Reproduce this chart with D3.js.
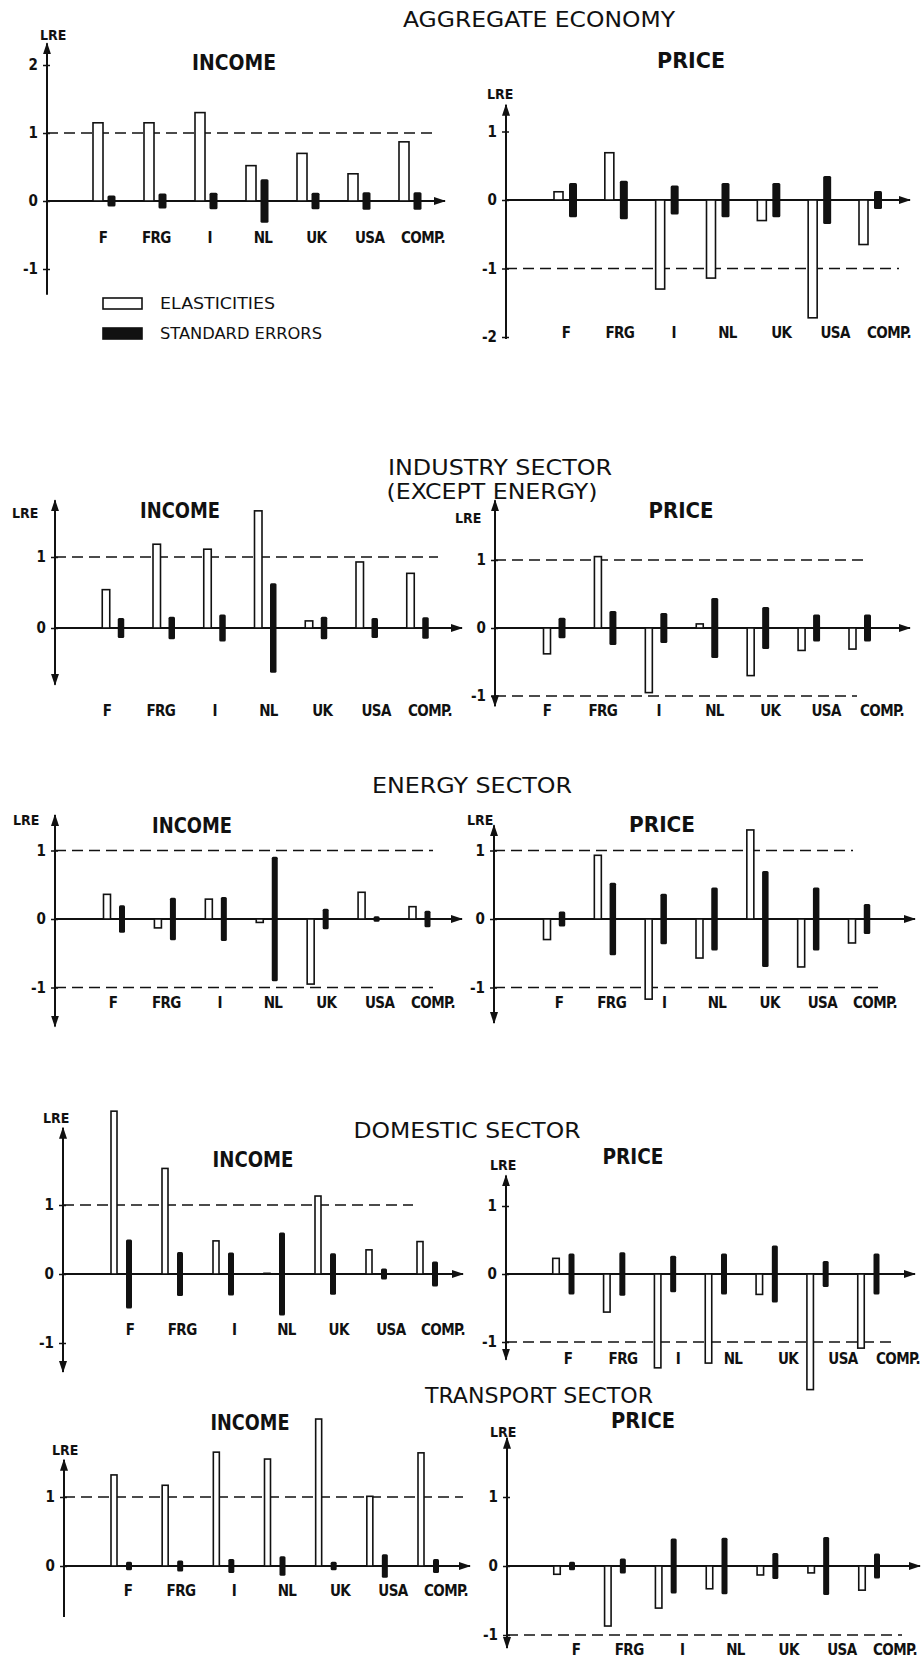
<!DOCTYPE html>
<html>
<head>
<meta charset="utf-8">
<script src="https://cdn.jsdelivr.net/npm/d3@7"></script>
<style>
  body { margin: 0; background: #fff; }
  svg text { font-family: "DejaVu Sans Condensed", "Liberation Sans Narrow", "DejaVu Sans", sans-serif; fill: #111; }
</style>
</head>
<body>
<svg width="924" height="1658"></svg>
<script>
// countries (x categories)
const countries = ["F", "FRG", "I", "NL", "UK", "USA", "COMP."];

// long run elasticities (open bars) and standard errors (black bars, +/-)
const aggIncElast   = [1.15, 1.15, 1.30, 0.52, 0.70, 0.40, 0.87];
const aggIncSE      = [0.08, 0.11, 0.12, 0.32, 0.12, 0.13, 0.13];
const aggPriceElast = [0.12, 0.69, -1.30, -1.14, -0.30, -1.72, -0.65];
const aggPriceSE    = [0.25, 0.28, 0.21, 0.25, 0.25, 0.35, 0.13];

const indIncElast   = [0.54, 1.18, 1.11, 1.65, 0.10, 0.93, 0.77];
const indIncSE      = [0.14, 0.16, 0.19, 0.63, 0.16, 0.14, 0.15];
const indPriceElast = [-0.38, 1.05, -0.95, 0.06, -0.70, -0.33, -0.31];
const indPriceSE    = [0.15, 0.25, 0.22, 0.44, 0.31, 0.20, 0.20];

const enIncElast    = [0.36, -0.13, 0.29, -0.05, -0.95, 0.39, 0.18];
const enIncSE       = [0.20, 0.31, 0.32, 0.91, 0.15, 0.04, 0.12];
const enPriceElast  = [-0.30, 0.93, -1.17, -0.57, 1.30, -0.70, -0.35];
const enPriceSE     = [0.11, 0.53, 0.37, 0.46, 0.70, 0.46, 0.22];

const domIncElast   = [2.36, 1.53, 0.48, 0.01, 1.13, 0.35, 0.47];
const domIncSE      = [0.50, 0.32, 0.31, 0.60, 0.30, 0.08, 0.18];
const domPriceElast = [0.23, -0.56, -1.38, -1.31, -0.30, -1.70, -1.09];
const domPriceSE    = [0.30, 0.32, 0.27, 0.30, 0.42, 0.19, 0.30];

const trIncElast    = [1.32, 1.17, 1.65, 1.55, 2.13, 1.01, 1.64];
const trIncSE       = [0.06, 0.08, 0.10, 0.14, 0.06, 0.17, 0.10];
const trPriceElast  = [-0.12, -0.87, -0.61, -0.33, -0.13, -0.10, -0.35];
const trPriceSE     = [0.06, 0.11, 0.40, 0.41, 0.19, 0.42, 0.18];

// tick values of each y axis
const aggIncTicks = [2, 1, 0, -1];
const aggPriceTicks = [1, 0, -1, -2];
const shortTicks = [1, 0];
const fullTicks = [1, 0, -1];

const sectionTitles = [
  { text: "AGGREGATE ECONOMY", x: 539, y: 27, w: 272 },
  { text: "INDUSTRY SECTOR", x: 500, y: 475, w: 224 },
  { text: "(EXCEPT ENERGY)", x: 492, y: 499, w: 211 },
  { text: "ENERGY SECTOR", x: 472, y: 793, w: 200 },
  { text: "DOMESTIC SECTOR", x: 467, y: 1138, w: 227 },
  { text: "TRANSPORT SECTOR", x: 539, y: 1403, w: 228 }
];

// layout of the ten small panels
const panels = [
  { title: "INCOME", elast: aggIncElast, se: aggIncSE, ticks: aggIncTicks,
    ax: 47, y0: 201, unit: 68, top: 2.32, bottom: -1.38, downArrow: false, xEnd: 445,
    bars: [98, 404], gap: 13.5, ew: 10, sw: 8, labs: [103, 423], labY: 243,
    refs: [[1, 433]], tx: 234, ty: 70, tw: 84, lre: [40, 40] },
  { title: "PRICE", elast: aggPriceElast, se: aggPriceSE, ticks: aggPriceTicks,
    ax: 506, y0: 200, unit: 68.5, top: 1.39, bottom: -2.03, downArrow: false, xEnd: 910,
    bars: [558.5, 863.5], gap: 14.5, ew: 9, sw: 8, labs: [566, 889], labY: 338,
    refs: [[-1, 899]], tx: 691, ty: 68, tw: 68, lre: [487, 99] },
  { title: "INCOME", elast: indIncElast, se: indIncSE, ticks: shortTicks,
    ax: 55, y0: 628, unit: 71, top: 1.8, bottom: -0.8, downArrow: true, xEnd: 462,
    bars: [106, 410.5], gap: 15, ew: 7.5, sw: 6.5, labs: [107, 430], labY: 716,
    refs: [[1, 438]], tx: 180, ty: 518, tw: 80, lre: [12, 518] },
  { title: "PRICE", elast: indPriceElast, se: indPriceSE, ticks: fullTicks,
    ax: 495, y0: 628, unit: 68, top: 1.88, bottom: -1.15, downArrow: true, xEnd: 910,
    bars: [547, 852.5], gap: 15, ew: 7, sw: 7, labs: [547, 882], labY: 716,
    refs: [[1, 867], [-1, 857]], tx: 681, ty: 518, tw: 65, lre: [455, 523] },
  { title: "INCOME", elast: enIncElast, se: enIncSE, ticks: fullTicks,
    ax: 55, y0: 919, unit: 68.5, top: 1.52, bottom: -1.57, downArrow: true, xEnd: 462,
    bars: [107, 412.5], gap: 15, ew: 7, sw: 6, labs: [113, 433], labY: 1008,
    refs: [[1, 433], [-1, 433]], tx: 192, ty: 833, tw: 80, lre: [13, 825] },
  { title: "PRICE", elast: enPriceElast, se: enPriceSE, ticks: fullTicks,
    ax: 494, y0: 919, unit: 68.5, top: 1.37, bottom: -1.52, downArrow: true, xEnd: 915,
    bars: [547, 852], gap: 15, ew: 7, sw: 6.5, labs: [559, 875], labY: 1008,
    refs: [[1, 853], [-1, 878]], tx: 662, ty: 832, tw: 66, lre: [467, 825] },
  { title: "INCOME", elast: domIncElast, se: domIncSE, ticks: fullTicks,
    ax: 63, y0: 1274, unit: 69, top: 2.12, bottom: -1.42, downArrow: true, xEnd: 463,
    bars: [114, 420], gap: 15, ew: 6, sw: 6, labs: [130, 443], labY: 1335,
    refs: [[1, 413]], tx: 253, ty: 1167, tw: 81, lre: [43, 1123] },
  { title: "PRICE", elast: domPriceElast, se: domPriceSE, ticks: fullTicks,
    ax: 506, y0: 1274, unit: 68, top: 1.45, bottom: -1.26, downArrow: true, xEnd: 915,
    bars: [556, 861], gap: 15.5, ew: 6.5, sw: 6, labs: [568, 898], labY: 1364,
    refs: [[-1, 897]], tx: 633, ty: 1164, tw: 61, lre: [490, 1170] },
  { title: "INCOME", elast: trIncElast, se: trIncSE, ticks: shortTicks,
    ax: 64, y0: 1566, unit: 69, top: 1.54, bottom: -0.74, downArrow: false, xEnd: 470,
    bars: [114, 421], gap: 15, ew: 6, sw: 6, labs: [128, 446], labY: 1596,
    refs: [[1, 463]], tx: 250, ty: 1430, tw: 79, lre: [52, 1455] },
  { title: "PRICE", elast: trPriceElast, se: trPriceSE, ticks: fullTicks,
    ax: 507, y0: 1566, unit: 69, top: 1.86, bottom: -1.19, downArrow: true, xEnd: 920,
    bars: [557, 862], gap: 15, ew: 6.5, sw: 6, labs: [576, 895], labY: 1655,
    refs: [[-1, 902]], tx: 643, ty: 1428, tw: 64, lre: [490, 1437] }
];

const svg = d3.select("svg");

// arrow head
svg.append("defs").append("marker")
  .attr("id", "arrow")
  .attr("viewBox", "0 0 12 8")
  .attr("refX", 11).attr("refY", 4)
  .attr("markerWidth", 12).attr("markerHeight", 8)
  .attr("markerUnits", "userSpaceOnUse")
  .attr("orient", "auto-start-reverse")
  .append("path")
  .attr("d", "M0,0 L12,4 L0,8 Z")
  .attr("fill", "#111");

// section headings
svg.selectAll("text.section")
  .data(sectionTitles)
  .enter()
  .append("text")
  .attr("class", "section")
  .attr("x", d => d.x)
  .attr("y", d => d.y)
  .attr("text-anchor", "middle")
  .attr("font-size", 21)
  .attr("textLength", d => d.w)
  .attr("lengthAdjust", "spacingAndGlyphs")
  .text(d => d.text);

panels.forEach(drawPanel);

function drawPanel(p) {
  const g = svg.append("g");
  const y = d3.scaleLinear().domain([0, 1]).range([p.y0, p.y0 - p.unit]);
  const x = d3.scalePoint().domain(countries).range(p.bars);
  const xl = d3.scalePoint().domain(countries).range(p.labs);

  // reference lines at +1 / -1
  g.selectAll("line.ref")
    .data(p.refs)
    .enter()
    .append("line")
    .attr("x1", p.ax).attr("x2", d => d[1])
    .attr("y1", d => y(d[0])).attr("y2", d => y(d[0]))
    .attr("stroke", "#111")
    .attr("stroke-width", 1.6)
    .attr("stroke-dasharray", "11,6");

  // y axis line with arrows
  g.append("line")
    .attr("x1", p.ax).attr("x2", p.ax)
    .attr("y1", y(p.bottom)).attr("y2", y(p.top))
    .attr("stroke", "#111").attr("stroke-width", 2)
    .attr("marker-end", "url(#arrow)")
    .attr("marker-start", p.downArrow ? "url(#arrow)" : null);

  const yAxis = d3.axisLeft(y)
    .tickValues(p.ticks)
    .tickSize(4)
    .tickPadding(5)
    .tickFormat(d => String(d));

  g.append("g")
    .attr("transform", "translate(" + p.ax + ",0)")
    .call(yAxis)
    .call(a => a.select(".domain").remove())
    .call(a => a.selectAll(".tick line").attr("x1", 3).attr("stroke", "#111").attr("stroke-width", 1.5))
    .call(a => a.selectAll(".tick text").attr("font-size", 15).attr("font-weight", "bold"));

  // x axis
  g.append("line")
    .attr("x1", p.ax).attr("x2", p.xEnd)
    .attr("y1", p.y0).attr("y2", p.y0)
    .attr("stroke", "#111").attr("stroke-width", 2)
    .attr("marker-end", "url(#arrow)");

  const rows = countries.map((c, i) => ({ c: c, e: p.elast[i], s: p.se[i] }));

  // elasticities: open bars
  g.selectAll("rect.elast")
    .data(rows)
    .enter()
    .append("rect")
    .attr("class", "elast")
    .attr("x", d => x(d.c) - p.ew / 2)
    .attr("width", p.ew)
    .attr("y", d => Math.min(y(d.e), y(0)))
    .attr("height", d => Math.abs(y(d.e) - y(0)))
    .attr("fill", "#fff")
    .attr("stroke", "#111")
    .attr("stroke-width", 1.6);

  // standard errors: black bars +/- se
  g.selectAll("rect.se")
    .data(rows)
    .enter()
    .append("rect")
    .attr("class", "se")
    .attr("x", d => x(d.c) + p.gap - p.sw / 2)
    .attr("width", p.sw)
    .attr("y", d => y(d.s))
    .attr("height", d => y(-d.s) - y(d.s))
    .attr("rx", 1.5)
    .attr("fill", "#111");

  // country labels
  g.selectAll("text.cat")
    .data(countries)
    .enter()
    .append("text")
    .attr("class", "cat")
    .attr("x", d => xl(d))
    .attr("y", p.labY)
    .attr("text-anchor", "middle")
    .attr("font-size", 15)
    .attr("font-weight", "bold")
    .attr("letter-spacing", -0.6)
    .text(d => d);

  // panel title
  g.append("text")
    .attr("x", p.tx).attr("y", p.ty)
    .attr("text-anchor", "middle")
    .attr("font-size", 22)
    .attr("font-weight", "bold")
    .attr("textLength", p.tw)
    .attr("lengthAdjust", "spacingAndGlyphs")
    .text(p.title);

  // axis name
  g.append("text")
    .attr("x", p.lre[0]).attr("y", p.lre[1])
    .attr("font-size", 14)
    .attr("font-weight", "bold")
    .text("LRE");
}

// legend (aggregate income panel)
const legendItems = ["ELASTICITIES", "STANDARD ERRORS"];
const legendWidths = [115, 162];
const legend = svg.append("g").attr("transform", "translate(103,298)");
legend.selectAll("rect")
  .data(legendItems)
  .enter()
  .append("rect")
  .attr("x", 0)
  .attr("y", (d, i) => i * 30)
  .attr("width", 39)
  .attr("height", 11)
  .attr("fill", (d, i) => i ? "#111" : "#fff")
  .attr("stroke", "#111")
  .attr("stroke-width", 1.6);
legend.selectAll("text")
  .data(legendItems)
  .enter()
  .append("text")
  .attr("x", 57)
  .attr("y", (d, i) => i * 30 + 11)
  .attr("font-size", 15)
  .attr("textLength", (d, i) => legendWidths[i])
  .attr("lengthAdjust", "spacingAndGlyphs")
  .text(d => d);
</script>
</body>
</html>
